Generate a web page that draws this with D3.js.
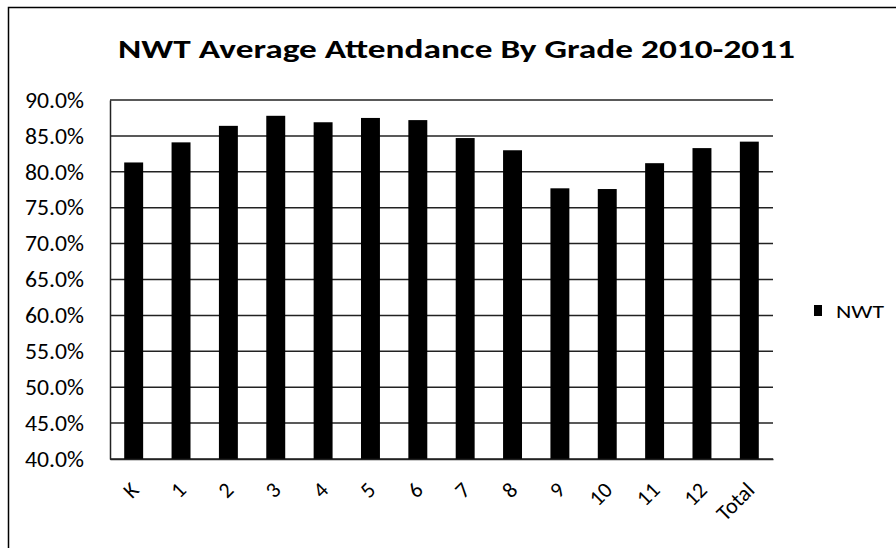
<!DOCTYPE html>
<html><head><meta charset="utf-8">
<script src="https://cdn.jsdelivr.net/npm/d3@7"></script>
<style>
body{margin:0;background:#fff;}
svg text{font-family:Calibri, Carlito, Lato, "Open Sans", sans-serif;fill:#000;}
</style></head>
<body><svg id="c" width="896" height="548"></svg>
<script>
const categories = ["K","1","2","3","4","5","6","7","8","9","10","11","12","Total"];
const values = [81.3, 84.1, 86.4, 87.8, 86.9, 87.5, 87.2, 84.7, 83.0, 77.7, 77.6, 81.2, 83.3, 84.2];
const yTicks = [40,45,50,55,60,65,70,75,80,85,90];
const seriesName = "NWT";
const title = "NWT Average Attendance By Grade 2010-2011";

const FONT = "Calibri, Carlito, Lato, 'Open Sans', sans-serif";
const svg = d3.select("#c");
const m = {left:110, right:773, top:100, bottom:459};

// outer frame
svg.append("path").attr("d","M8.5,548 L8.5,7.5 L896,7.5").attr("fill","none").attr("stroke","#000").attr("stroke-width",1.5);

svg.append("text").attr("x",118).attr("y",58)
  .attr("font-size",27).attr("font-weight",900)
  .attr("textLength",677).attr("lengthAdjust","spacingAndGlyphs").text(title);

const x = d3.scaleBand().domain(categories).range([m.left,m.right]).paddingInner(0.6).paddingOuter(0.3);
const y = d3.scaleLinear().domain([40,90]).range([m.bottom,m.top]);

// gridlines
svg.append("g").selectAll("line").data(yTicks).join("line")
  .attr("x1",m.left).attr("x2",m.right).attr("y1",d=>y(d)).attr("y2",d=>y(d))
  .attr("stroke","#222").attr("stroke-width",1.5);

// y axis
const yAxis = d3.axisLeft(y).tickValues(yTicks).tickFormat(d=>d.toFixed(1)+"%").tickSize(0).tickPadding(26);
const gy = svg.append("g").attr("transform",`translate(${m.left},0)`).call(yAxis);
gy.select(".domain").attr("stroke","#222").attr("stroke-width",1.5);
gy.selectAll("text").attr("font-size",22.5).style("font-family",FONT)
  .attr("textLength",59).attr("lengthAdjust","spacingAndGlyphs");

// bars
svg.append("g").selectAll("rect").data(values).join("rect")
  .attr("x",(d,i)=>x(categories[i])).attr("width",x.bandwidth())
  .attr("y",d=>y(d)).attr("height",d=>y(40)-y(d)).attr("fill","#000");

// x axis
const xAxis = d3.axisBottom(x).tickSize(0).tickPadding(0);
const gx = svg.append("g").attr("transform",`translate(0,${m.bottom})`).call(xAxis);
gx.select(".domain").attr("stroke","#222").attr("stroke-width",1.5);
gx.selectAll("text").attr("font-size",22).style("font-family",FONT)
  .attr("text-anchor","end").attr("dy","0.35em")
  .attr("transform","translate(1,27) rotate(-45)");

// legend
const lg = svg.append("g").attr("transform","translate(814,305)");
lg.append("rect").attr("width",8).attr("height",11).attr("fill","#000");
lg.append("text").attr("x",22).attr("y",6).attr("dy","0.35em").attr("font-size",19)
  .attr("textLength",48).attr("lengthAdjust","spacingAndGlyphs").text(seriesName);
</script></body></html>
